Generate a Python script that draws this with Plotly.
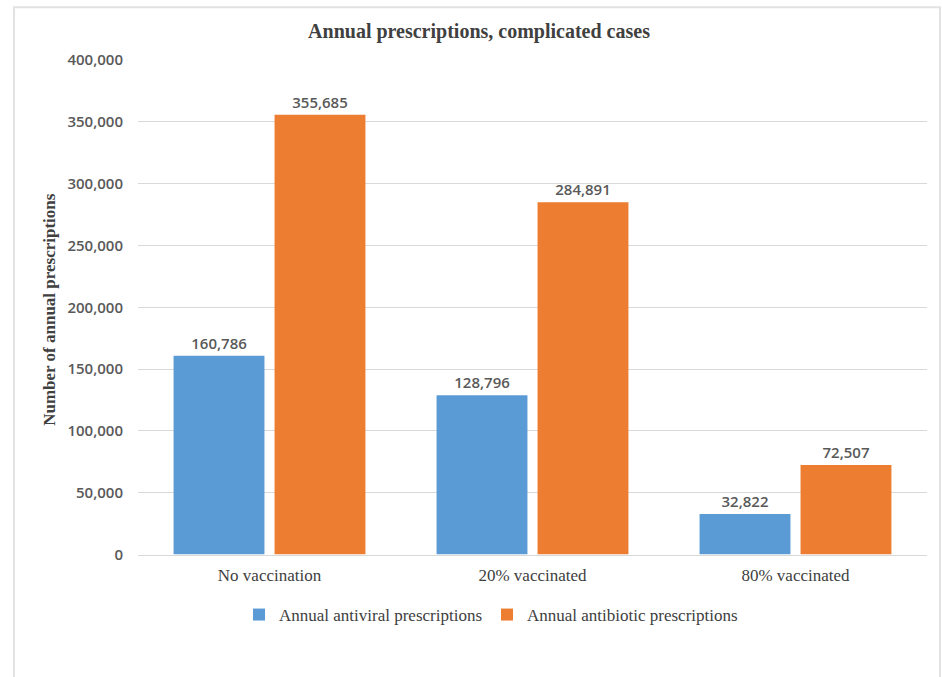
import plotly.graph_objects as go

categories = ["No vaccination", "20% vaccinated", "80% vaccinated"]
antiviral = [160786, 128796, 32822]
antibiotic = [355685, 284891, 72507]
series_names = ["Annual antiviral prescriptions", "Annual antibiotic prescriptions"]
tick_vals = [0, 50000, 100000, 150000, 200000, 250000, 300000, 350000, 400000]
tick_text = [f"{v:,}" for v in tick_vals]

W, H = 942, 677
L, R, T, B = 138, 15, 60, 120

serif = "Liberation Serif"
sans = "Open Sans"
label_font = dict(family=sans, size=15, color="#595959", weight=600)

fig = go.Figure()
fig.add_trace(go.Bar(
    x=categories, y=antiviral, name=series_names[0],
    marker=dict(color="#5B9BD5", line=dict(width=0)),
    text=[f"{v:,}" for v in antiviral], textposition="outside",
    textfont=label_font, cliponaxis=False,
))
fig.add_trace(go.Bar(
    x=categories, y=antibiotic, name=series_names[1],
    marker=dict(color="#ED7D31", line=dict(width=0)),
    text=[f"{v:,}" for v in antibiotic], textposition="outside",
    textfont=label_font, cliponaxis=False,
))

pw = W - L - R
ph = H - T - B
def px_x(x):
    return (x - L) / pw
def px_y(y):
    return (H - B - y) / ph

# light frame around the picture
fig.add_shape(type="rect", xref="paper", yref="paper",
              x0=px_x(14), x1=px_x(940), y0=px_y(690), y1=px_y(7),
              line=dict(color="#E2E2E2", width=2), fillcolor="rgba(0,0,0,0)", layer="below")

fig.add_annotation(
    text="Number of annual prescriptions", xref="paper", yref="paper",
    x=px_x(50), y=px_y(311), textangle=-90, showarrow=False,
    font=dict(family=serif, size=17, color="#404040", weight="bold"),
    xanchor="center", yanchor="middle",
)

fig.update_layout(
    width=W, height=H,
    margin=dict(l=L, r=R, t=T, b=B),
    paper_bgcolor="white", plot_bgcolor="white",
    barmode="group", bargap=0.232, bargroupgap=0.1,
    title=dict(text="<b>Annual prescriptions, complicated cases</b>",
               x=479 / W, xanchor="center", xref="container",
               y=1 - 31 / H, yanchor="middle", yref="container",
               font=dict(family=serif, size=20, color="#404040")),
    xaxis=dict(
        tickfont=dict(family=serif, size=17, color="#404040"),
        showgrid=False, showline=True, linecolor="#D9D9D9", linewidth=1,
        ticks="", ticklabelstandoff=5,
    ),
    yaxis=dict(
        range=[0, 400000], tickvals=tick_vals, ticktext=tick_text,
        tickfont=dict(family=sans, size=15, color="#595959", weight=600),
        showgrid=True, gridcolor="#D9D9D9", gridwidth=1,
        zeroline=False, ticks="", ticklabelstandoff=14,
        showline=False,
    ),
    legend=dict(
        orientation="h", xref="container", yref="container",
        x=491 / W, xanchor="center", y=1 - 615 / H, yanchor="middle",
        font=dict(family=serif, size=17, color="#404040"),
        itemwidth=30, traceorder="normal",
    ),
)

fig.write_html("out.html")
